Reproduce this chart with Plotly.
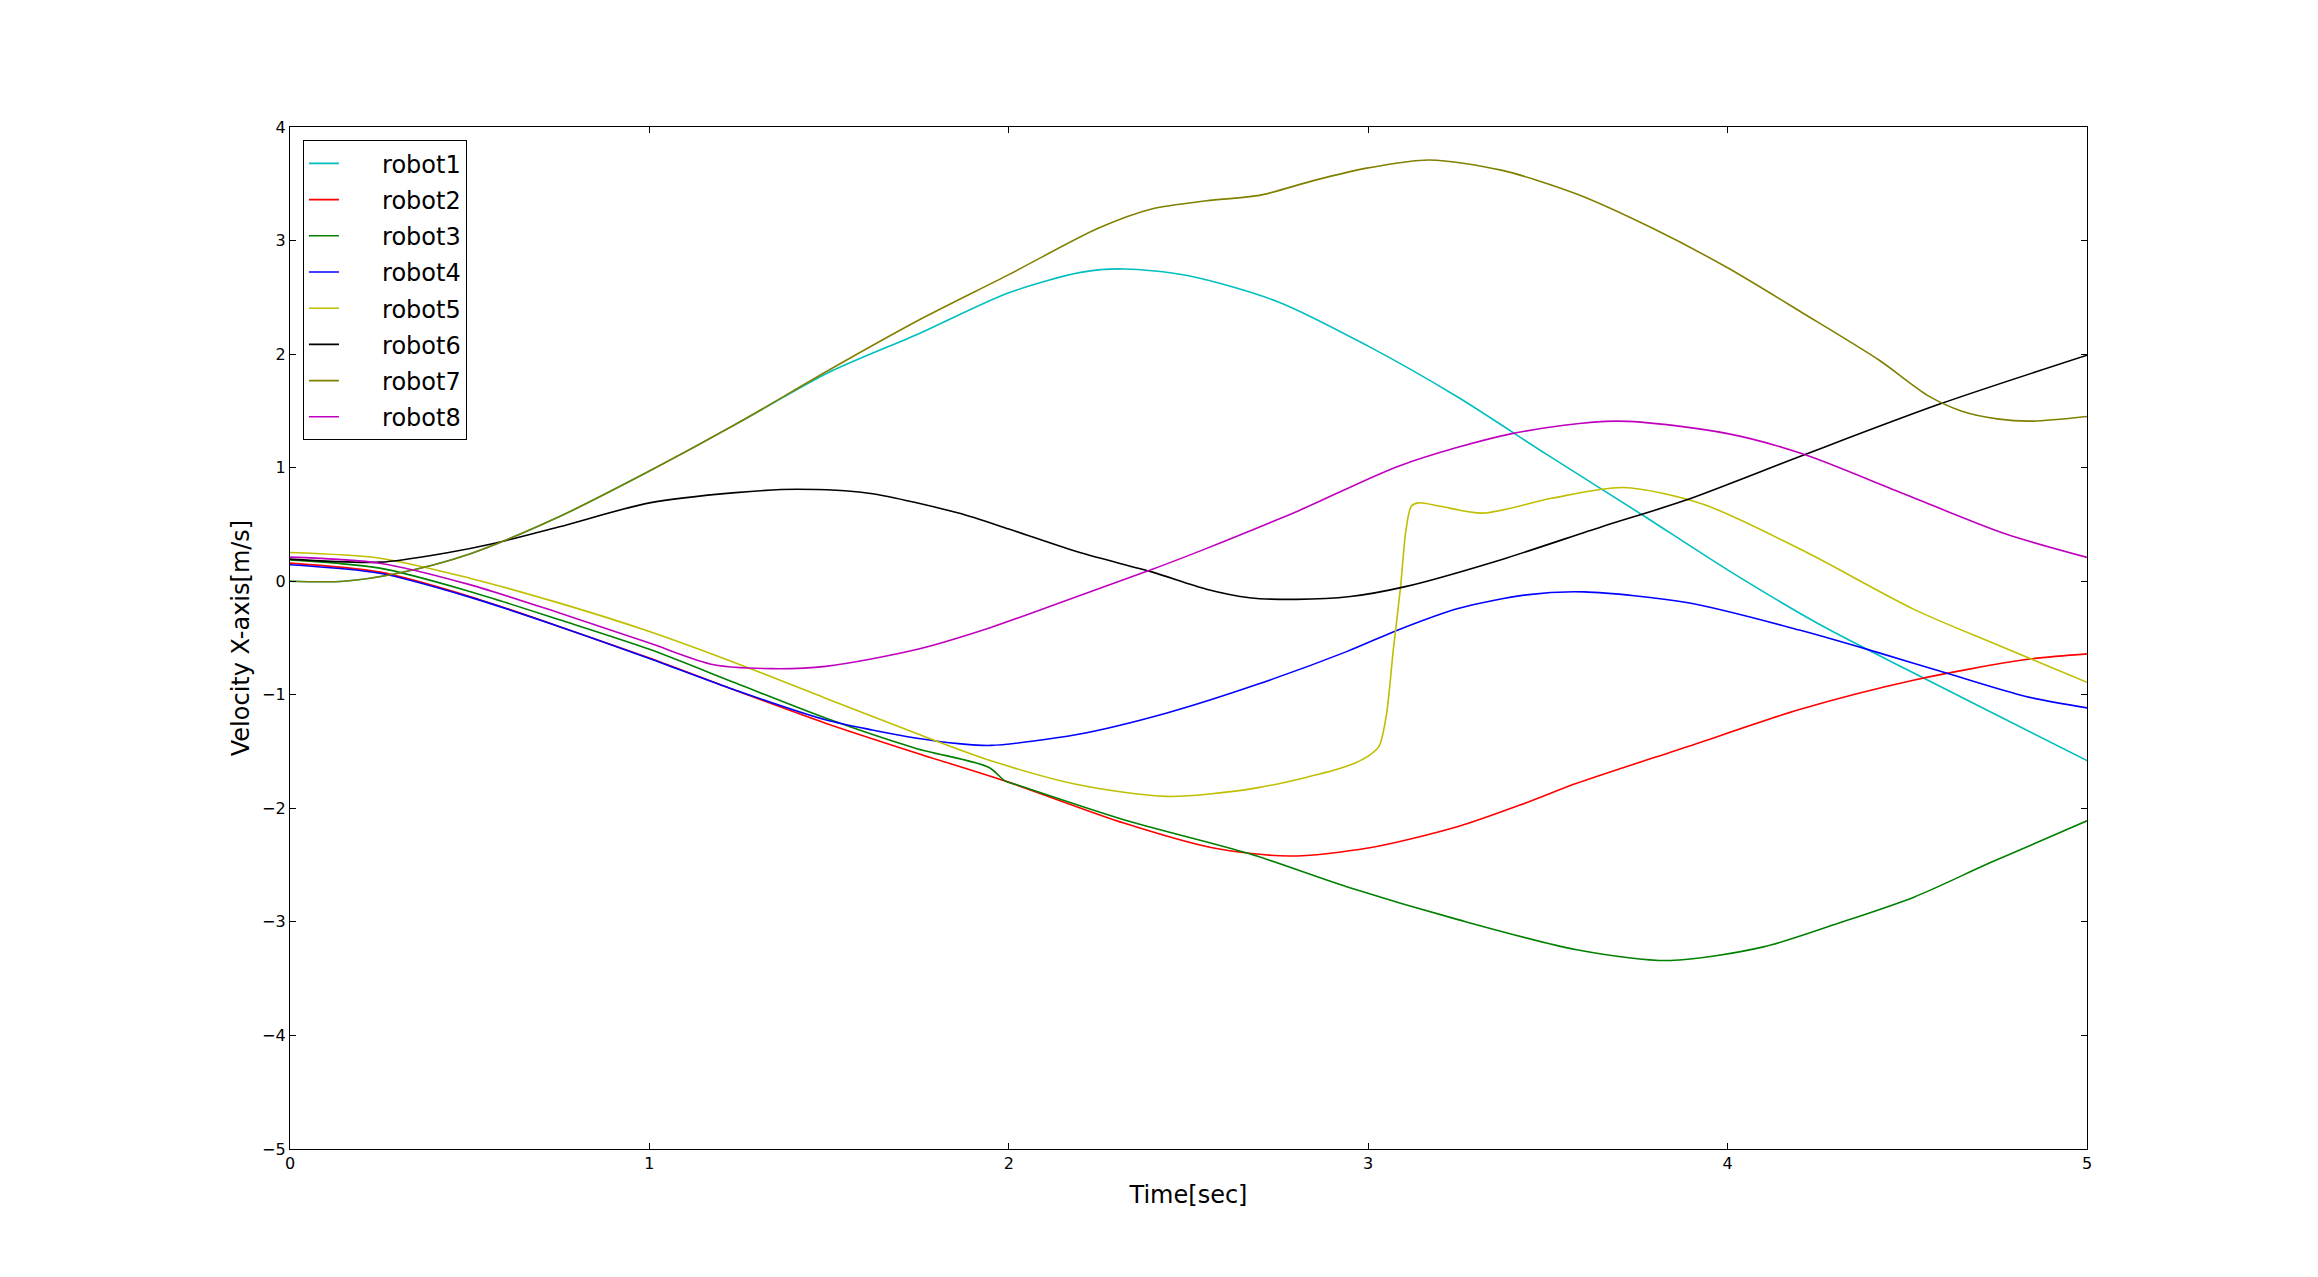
import plotly.graph_objects as go

# ---- data ----
t1 = [0, 0.15, 0.3, 0.5, 0.75, 1.0, 1.25, 1.5, 1.75, 2.0, 2.2, 2.32, 2.5, 2.75, 3.0, 3.25, 3.5, 3.75, 4.0, 4.25, 4.5, 4.75, 5.0]
v1 = [0.0, 0.0, 0.07, 0.24, 0.57, 0.97, 1.40, 1.84, 2.18, 2.54, 2.72, 2.75, 2.69, 2.46, 2.07, 1.62, 1.11, 0.61, 0.10, -0.37, -0.78, -1.18, -1.58]

t2 = [0, 0.25, 0.5, 0.75, 1.0, 1.24, 1.49, 1.74, 1.99, 2.32, 2.57, 2.78, 3.0, 3.25, 3.44, 3.58, 3.89, 4.2, 4.52, 4.83, 5.0]
v2 = [0.159, 0.08, -0.134, -0.40, -0.677, -0.962, -1.25, -1.51, -1.76, -2.13, -2.35, -2.42, -2.35, -2.16, -1.95, -1.78, -1.455, -1.13, -0.87, -0.69, -0.64]

t3 = [0, 0.25, 0.5, 0.75, 1.0, 1.24, 1.49, 1.74, 1.945, 1.99, 2.02, 2.32, 2.67, 2.94, 3.25, 3.58, 3.84, 4.1, 4.31, 4.52, 4.73, 5.0]
v3 = [0.188, 0.115, -0.09, -0.34, -0.60, -0.897, -1.205, -1.47, -1.64, -1.76, -1.79, -2.10, -2.40, -2.69, -2.98, -3.245, -3.34, -3.22, -3.01, -2.78, -2.48, -2.11]

t4 = [0, 0.25, 0.5, 0.75, 1.0, 1.24, 1.49, 1.62, 1.74, 1.86, 1.95, 2.19, 2.44, 2.69, 2.94, 3.09, 3.25, 3.44, 3.6, 3.89, 4.2, 4.41, 4.62, 4.83, 5.0]
v4 = [0.145, 0.07, -0.14, -0.40, -0.68, -0.96, -1.22, -1.31, -1.38, -1.43, -1.446, -1.35, -1.16, -0.91, -0.62, -0.42, -0.24, -0.12, -0.094, -0.19, -0.43, -0.62, -0.82, -1.015, -1.115]

t5 = [0, 0.25, 0.5, 0.75, 1.0, 1.24, 1.49, 1.74, 1.95, 2.19, 2.44, 2.69, 2.94, 3.0, 3.03, 3.05, 3.07, 3.09, 3.105, 3.12, 3.14, 3.2, 3.32, 3.51, 3.71, 3.93, 4.21, 4.52, 4.75, 5.0]
v5 = [0.253, 0.203, 0.027, -0.193, -0.443, -0.72, -1.03, -1.337, -1.58, -1.79, -1.895, -1.82, -1.63, -1.54, -1.455, -1.19, -0.60, -0.05, 0.45, 0.66, 0.69, 0.66, 0.60, 0.73, 0.825, 0.68, 0.27, -0.25, -0.56, -0.89]

t6 = [0, 0.25, 0.43, 0.57, 0.75, 1.0, 1.24, 1.41, 1.61, 1.86, 2.0, 2.2, 2.4, 2.55, 2.67, 2.8, 2.95, 3.1, 3.37, 3.65, 3.88, 4.21, 4.59, 5.0]
v6 = [0.195, 0.168, 0.247, 0.335, 0.48, 0.69, 0.78, 0.81, 0.775, 0.60, 0.46, 0.25, 0.08, -0.07, -0.145, -0.16, -0.135, -0.05, 0.19, 0.48, 0.71, 1.11, 1.56, 1.99]

t7 = [0, 0.15, 0.3, 0.5, 0.75, 1.0, 1.25, 1.5, 1.75, 2.0, 2.25, 2.4, 2.55, 2.7, 2.85, 3.0, 3.17, 3.37, 3.58, 3.79, 4.0, 4.21, 4.42, 4.56, 4.65, 4.75, 4.85, 5.0]
v7 = [0.0, 0.0, 0.07, 0.24, 0.57, 0.97, 1.40, 1.86, 2.30, 2.70, 3.11, 3.28, 3.35, 3.40, 3.53, 3.64, 3.71, 3.62, 3.41, 3.11, 2.76, 2.36, 1.95, 1.63, 1.50, 1.43, 1.41, 1.45]

t8 = [0, 0.25, 0.5, 0.75, 1.0, 1.18, 1.34, 1.49, 1.74, 1.95, 2.15, 2.39, 2.54, 2.81, 3.09, 3.4, 3.69, 4.0, 4.21, 4.49, 4.77, 5.0]
v8 = [0.212, 0.159, -0.03, -0.28, -0.545, -0.736, -0.77, -0.75, -0.604, -0.407, -0.18, 0.094, 0.276, 0.626, 1.02, 1.30, 1.41, 1.30, 1.12, 0.77, 0.42, 0.21]

names = ["robot1", "robot2", "robot3", "robot4", "robot5", "robot6", "robot7", "robot8"]
colors = ["#00bfbf", "#ff0000", "#008000", "#0000ff", "#bfbf00", "#000000", "#808000", "#bf00bf"]
series_t = [t1, t2, t3, t4, t5, t6, t7, t8]
series_v = [v1, v2, v3, v4, v5, v6, v7, v8]

x_ticks = [0, 1, 2, 3, 4, 5]
y_ticks = [-5, -4, -3, -2, -1, 0, 1, 2, 3, 4]

PAD = "\u00a0" * 5  # gap between legend sample line and label, as in the reference

fig = go.Figure()
for n, c, tt, vv in zip(names, colors, series_t, series_v):
    fig.add_trace(go.Scatter(
        x=tt, y=vv, mode="lines", name=PAD + n, legendgroup=n,
        line=dict(color=c, width=1.6, shape="spline", smoothing=0.8),
    ))

axis_common = dict(
    showgrid=False, zeroline=False, showline=True, linecolor="black", linewidth=1.3,
    mirror="ticks", ticks="inside", ticklen=6, tickcolor="black", tickwidth=1,
    tickfont=dict(family="DejaVu Sans", size=16, color="black"),
)

fig.update_layout(
    width=2302, height=1261,
    paper_bgcolor="white", plot_bgcolor="white",
    margin=dict(l=282, r=223, t=119, b=120),
    font=dict(family="DejaVu Sans", color="black"),
    xaxis=dict(range=[0, 5], tickvals=x_ticks, title=dict(text="Time[sec]", font=dict(size=24), standoff=13), **axis_common),
    yaxis=dict(range=[-5, 4], tickvals=y_ticks, title=dict(text="Velocity X-axis[m/s]", font=dict(size=24), standoff=5), **axis_common),
    legend=dict(
        x=0.0072, y=0.987, xanchor="left", yanchor="top",
        bgcolor="white", bordercolor="black", borderwidth=1,
        font=dict(family="DejaVu Sans", size=24, color="black"),
        traceorder="grouped", tracegroupgap=2,
    ),
    showlegend=True,
)

fig.write_html("out.html")
